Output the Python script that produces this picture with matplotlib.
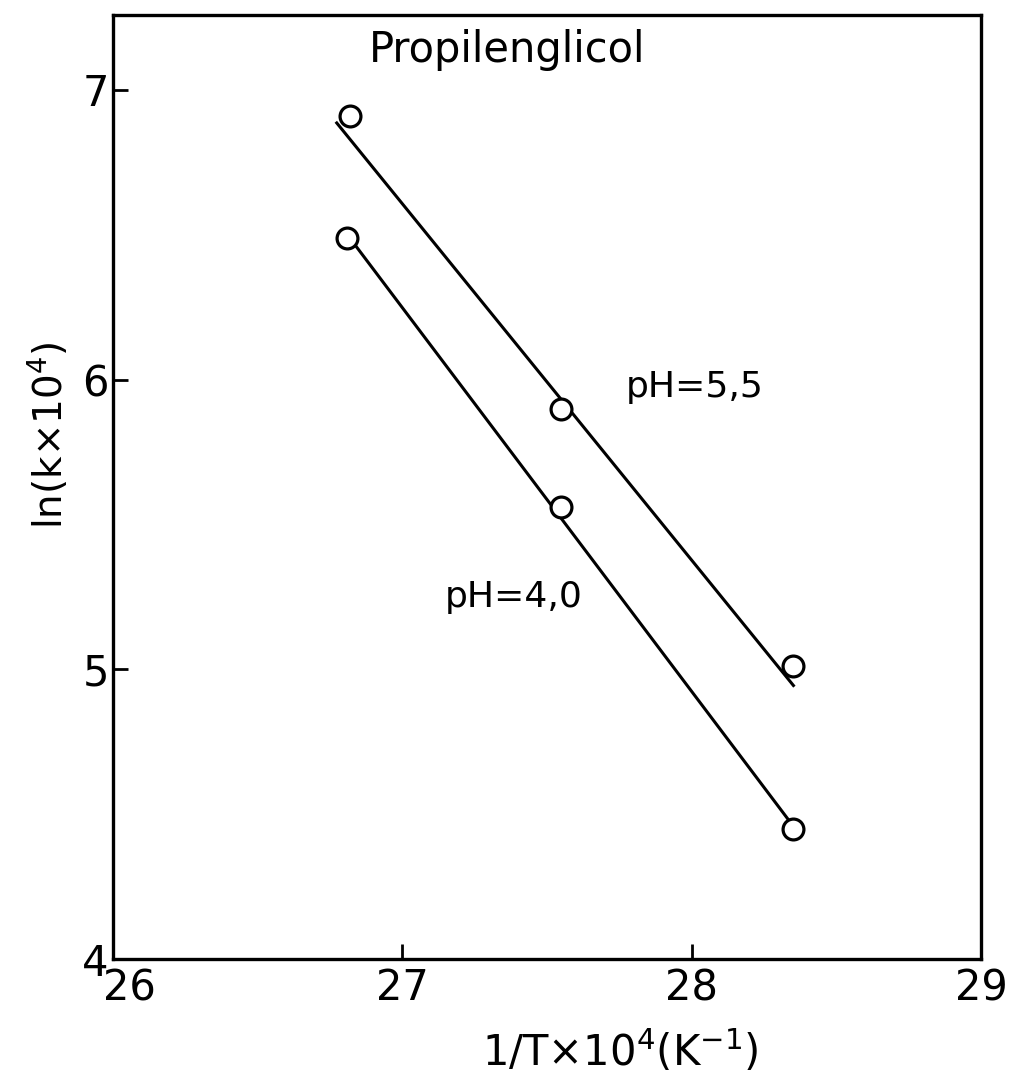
import matplotlib
matplotlib.use("Agg")
import matplotlib.pyplot as plt
from matplotlib.transforms import ScaledTranslation

# Data
x_ph55 = [26.82, 27.55, 28.35]
y_ph55 = [6.91, 5.90, 5.01]
x_ph40 = [26.81, 27.55, 28.35]
y_ph40 = [6.49, 5.56, 4.45]

# fitted straight lines (end points)
fit_x_ph55 = [26.77, 28.355]
fit_y_ph55 = [6.89, 4.94]
fit_x_ph40 = [26.81, 28.35]
fit_y_ph40 = [6.50, 4.46]

x_ticks = [26, 27, 28, 29]
y_ticks = [4, 5, 6, 7]

plt.rcParams['font.family'] = ['DejaVu Sans']
plt.rcParams['mathtext.fontset'] = 'dejavusans'

fig = plt.figure(figsize=(10.12, 10.76), dpi=100)
ax = fig.add_axes([113/1012, 1 - 959/1076, (981-113)/1012, (959-15)/1076])

ax.plot(fit_x_ph55, fit_y_ph55, color='black', lw=2.2, solid_capstyle='butt')
ax.plot(fit_x_ph40, fit_y_ph40, color='black', lw=2.2, solid_capstyle='butt')
for xs, ys in [(x_ph55, y_ph55), (x_ph40, y_ph40)]:
    ax.plot(xs, ys, ls='none', marker='o', ms=15, mfc='white', mec='black', mew=2.3, zorder=3)

ax.set_xlim(26, 29)
ax.set_ylim(4, 4 + (959-15)/289.7)
ax.set_xticks(x_ticks)
ax.set_yticks(y_ticks)
ax.set_xticklabels([str(t) for t in x_ticks])
ax.set_yticklabels([str(t) for t in y_ticks])
ax.tick_params(direction='in', length=11, width=2, labelsize=30)
ax.tick_params(axis='x', pad=6)
ax.tick_params(axis='y', pad=3)
for s in ax.spines.values():
    s.set_linewidth(2.4)

# shift the "26" label to the right like in the reference
lbl = ax.get_xticklabels()[0]
lbl.set_transform(lbl.get_transform() + ScaledTranslation(12/72, 0, fig.dpi_scale_trans))

ax.set_xlabel(r'1/T$\times$10$^4$(K$^{-1}$)', fontsize=30)
ax.xaxis.set_label_coords(0.584, -0.073)
ax.set_ylabel(r'ln(k$\times$10$^4$)', fontsize=28)
ax.yaxis.set_label_coords(-0.05, 0.555)

ax.text(0.454, 0.950, 'Propilenglicol', transform=ax.transAxes, fontsize=30,
        ha='center', va='baseline')
ax.text(0.670, 0.595, 'pH=5,5', transform=ax.transAxes, fontsize=26,
        ha='center', va='baseline')
ax.text(0.462, 0.373, 'pH=4,0', transform=ax.transAxes, fontsize=26,
        ha='center', va='baseline')

fig.savefig('out.png', dpi=100)
